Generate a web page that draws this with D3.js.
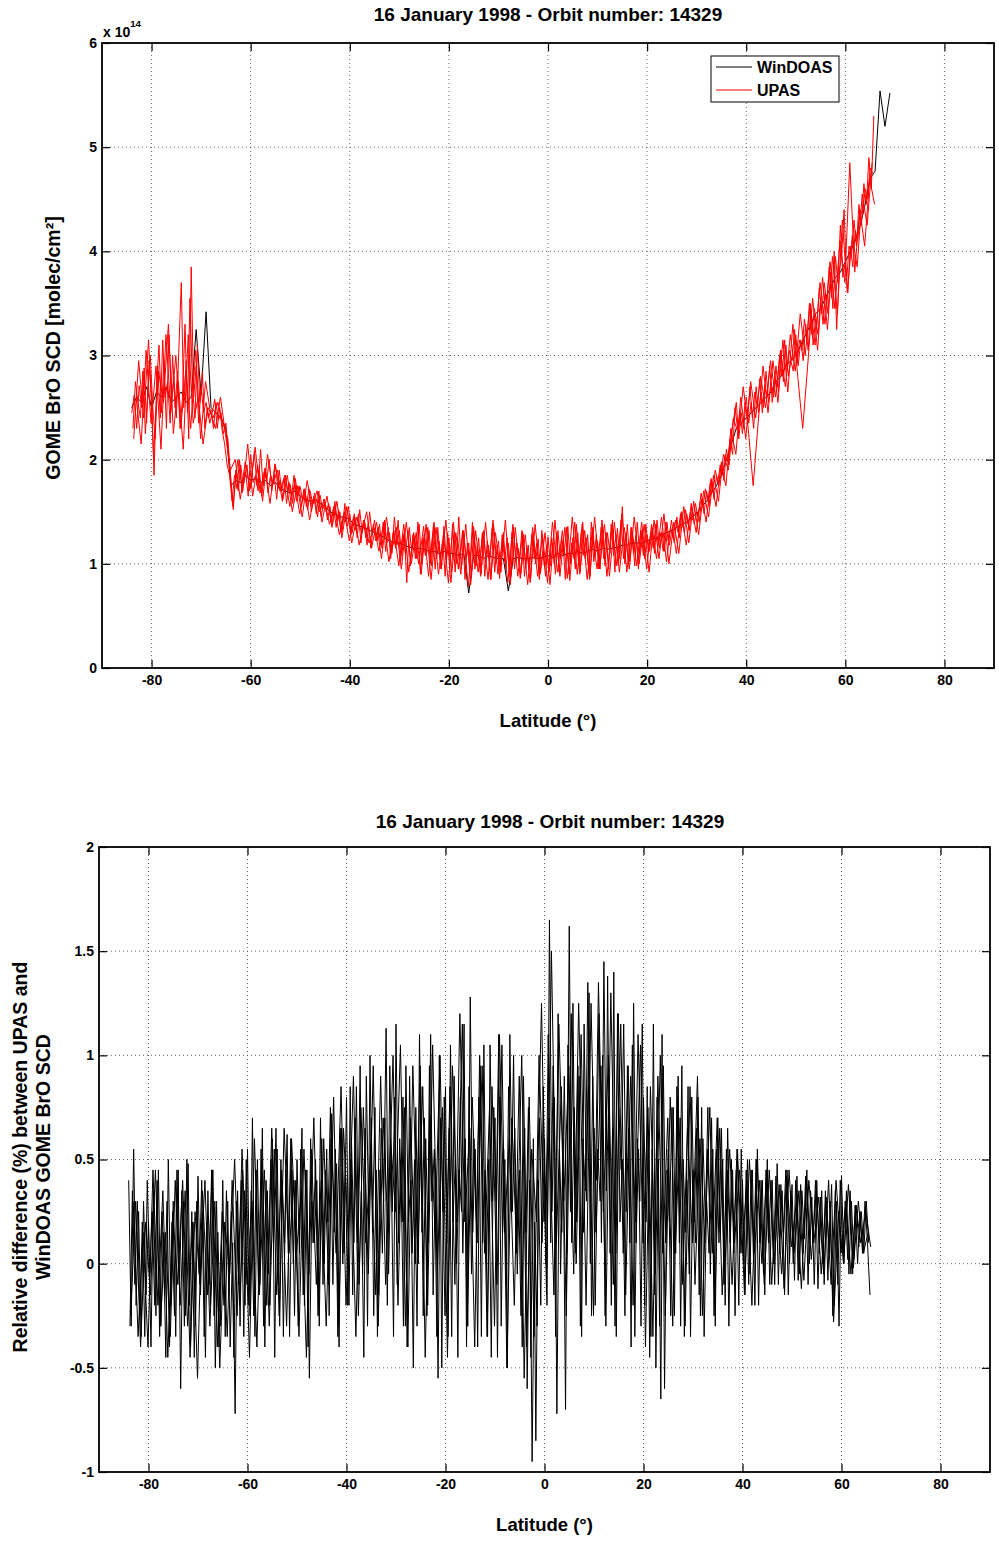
<!DOCTYPE html>
<html><head><meta charset="utf-8">
<script src="https://cdn.jsdelivr.net/npm/d3@7"></script>
<style>
body{margin:0;background:#fff}
svg{display:block}
text{font-family:"Liberation Sans",Arial,Helvetica,sans-serif;font-weight:bold;fill:#000}
</style>
</head><body>
<svg id="chart" width="999" height="1542"></svg>
<script>
// ---------- DATA ----------
const titleText = "16 January 1998 - Orbit number: 14329";
const seriesNames = ["WinDOAS", "UPAS"];
const latTicks = [-80, -60, -40, -20, 0, 20, 40, 60, 80];
const scdTicks = [0, 1, 2, 3, 4, 5, 6];
const diffTicks = [-1, -0.5, 0, 0.5, 1, 1.5, 2];

// latitude grid of the scan traces (degrees)
const latStartA = -84, latStartB = -83.75, latStep = 0.5;
const latStartC = -83.6, latStartD = -83.1, latStepCD = 1;
const windoasStart = -84, windoasStep = 1;

// UPAS BrO SCD (x 1e14 molec/cm2), trace A
const upasA = [
2.45,2.62,2.30,2.71,2.50,2.88,2.35,2.95,2.60,1.85,
2.70,3.10,2.45,2.95,2.30,3.20,2.55,2.80,2.40,3.05,
3.70,2.50,2.95,2.20,3.85,2.60,2.90,2.35,2.70,2.45,
2.55,2.40,2.48,2.30,2.55,2.38,2.45,2.25,2.35,2.05,
1.80,1.52,1.90,1.70,1.95,1.75,1.88,1.65,2.05,1.78,
1.85,1.70,2.10,1.75,1.92,1.68,1.85,1.78,1.95,1.72,
1.80,1.62,1.85,1.70,1.76,1.58,1.82,1.66,1.74,1.60,
1.68,1.52,1.70,1.58,1.62,1.45,1.66,1.52,1.58,1.42,
1.55,1.38,1.60,1.40,1.50,1.32,1.58,1.36,1.48,1.30,
1.45,1.25,1.52,1.30,1.40,1.18,1.50,1.28,1.42,1.22,
1.38,1.15,1.42,1.20,1.30,1.10,1.45,1.18,1.32,1.08,
1.30,0.82,1.35,1.12,1.25,1.05,1.38,1.00,1.28,1.10,
1.32,0.98,1.40,1.05,1.22,0.95,1.36,1.02,1.25,0.92,
1.28,1.00,1.45,0.95,1.30,1.05,1.20,0.88,1.35,0.98,
1.25,0.90,1.32,1.02,1.18,0.85,1.38,1.00,1.22,0.92,
1.30,0.95,1.20,0.88,1.35,1.02,1.15,0.90,1.28,0.96,
1.18,0.86,1.30,1.00,1.24,0.92,1.12,0.88,1.26,0.98,
1.20,0.90,1.32,1.05,1.22,0.85,1.36,1.00,1.25,0.95,
1.30,0.92,1.40,1.05,1.28,0.88,1.35,1.08,1.22,0.95,
1.36,0.98,1.30,1.10,1.42,0.92,1.34,1.05,1.55,1.00,
1.38,1.02,1.30,0.98,1.40,1.10,1.32,1.05,1.28,1.12,
1.35,1.10,1.42,1.15,1.30,1.12,1.40,1.18,1.32,1.20,
1.45,1.25,1.50,1.30,1.48,1.32,1.55,1.38,1.50,1.40,
1.62,1.48,1.70,1.55,1.80,1.62,1.85,1.75,1.98,1.80,
2.10,1.95,2.25,2.40,2.55,2.20,2.45,2.30,2.60,2.35,
2.55,2.30,2.70,2.45,2.65,2.50,2.85,2.55,2.75,2.60,
2.90,2.65,3.05,2.75,3.10,2.80,2.95,2.85,3.20,2.90,
3.15,2.95,3.30,3.05,3.45,3.10,3.35,3.20,3.55,3.30,
3.60,3.40,3.80,3.45,3.95,3.70,4.25,3.75,3.90,3.60,
4.05,3.85,4.20,4.10,4.40,4.35,4.60,4.50,4.80,4.75
];

// UPAS BrO SCD (x 1e14 molec/cm2), trace B
const upasB = [
2.30,2.75,2.55,2.40,2.85,2.25,2.65,3.00,2.50,2.20,
2.90,2.40,3.15,2.60,2.75,2.35,3.00,2.50,2.85,2.30,
2.60,3.30,2.45,3.55,2.70,2.40,3.10,2.55,2.85,2.30,
2.50,2.35,2.45,2.58,2.30,2.50,2.28,2.15,1.95,1.85,
1.60,1.85,1.72,2.00,1.68,1.82,1.95,1.70,1.85,2.08,
1.75,1.90,1.65,1.88,1.80,2.00,1.70,1.86,1.62,1.90,
1.70,1.82,1.58,1.78,1.65,1.85,1.60,1.75,1.55,1.72,
1.55,1.72,1.50,1.65,1.48,1.70,1.45,1.62,1.50,1.58,
1.40,1.55,1.35,1.52,1.30,1.48,1.40,1.55,1.28,1.45,
1.32,1.48,1.20,1.42,1.25,1.40,1.15,1.38,1.22,1.35,
1.18,1.40,1.12,1.35,1.05,1.30,1.15,1.42,1.02,1.28,
1.10,1.32,0.98,1.28,1.05,1.40,0.90,1.25,1.08,1.35,
1.00,1.28,0.95,1.35,1.05,1.22,0.88,1.30,1.02,1.38,
0.92,1.25,1.05,1.32,0.85,1.20,0.98,1.40,0.95,1.18,
0.98,1.30,0.88,1.22,1.05,1.35,0.92,1.18,0.86,1.28,
1.02,1.25,0.90,1.30,0.95,1.20,1.05,1.32,0.88,1.15,
0.95,1.28,1.05,1.20,0.85,1.32,0.98,1.18,0.92,1.25,
1.00,1.30,0.92,1.25,1.08,1.35,0.90,1.20,1.05,1.38,
0.98,1.32,1.08,1.25,0.92,1.40,1.02,1.28,0.95,1.35,
1.05,1.30,0.95,1.38,1.08,1.28,1.00,1.42,1.05,1.30,
1.00,1.35,1.10,1.28,0.95,1.32,1.08,1.38,1.12,1.30,
1.15,1.38,1.18,1.30,1.12,1.40,1.22,1.35,1.25,1.42,
1.30,1.48,1.35,1.52,1.38,1.50,1.42,1.58,1.45,1.60,
1.55,1.72,1.60,1.78,1.70,1.90,1.78,1.95,1.85,2.05,
1.98,2.20,2.05,2.50,2.30,2.45,2.25,2.55,2.40,2.70,
2.40,2.65,2.50,2.78,2.45,2.72,2.60,2.90,2.55,2.80,
2.70,3.00,2.80,3.15,2.85,3.05,2.95,3.25,2.92,3.15,
3.05,3.35,3.15,3.50,3.20,3.45,3.30,3.65,3.40,3.70,
3.50,3.85,3.55,4.00,3.25,3.80,3.95,4.40,3.70,4.05,
3.95,4.30,4.05,4.45,4.25,4.65,4.45,4.90,4.60,5.30
];

// UPAS BrO SCD (x 1e14 molec/cm2), trace C (1 degree)
const upasC = [
2.20,2.95,2.40,3.15,2.05,2.85,2.55,3.30,2.25,2.75,
2.10,3.20,2.35,2.60,2.15,2.50,2.40,2.55,2.35,2.20,
1.55,2.00,1.70,2.15,1.65,1.95,1.60,2.05,1.75,1.90,
1.60,1.85,1.50,1.75,1.45,1.80,1.55,1.70,1.40,1.65,
1.35,1.60,1.25,1.55,1.20,1.45,1.30,1.50,1.15,1.40,
1.05,1.45,1.10,1.35,0.95,1.40,1.00,1.30,0.90,1.38,
0.85,1.35,0.95,1.42,0.82,1.30,0.90,1.38,0.80,1.32,
0.88,1.40,0.85,1.30,0.92,1.42,0.80,1.35,0.86,1.28,
0.82,1.38,0.90,1.30,0.80,1.42,0.88,1.35,0.84,1.40,
0.90,1.32,0.85,1.45,0.95,1.38,0.88,1.40,0.92,1.35,
0.95,1.45,1.00,1.38,0.92,1.42,1.05,1.48,1.00,1.40,
1.10,1.55,1.20,1.60,1.28,1.70,1.45,1.85,1.60,2.05,
1.90,2.40,2.25,2.70,2.30,1.75,2.35,2.90,2.45,2.95,
2.55,3.15,2.65,3.30,2.80,2.30,2.90,3.55,3.05,3.75,
3.25,3.95,3.40,4.30,3.60,4.15,3.85,4.55,4.25,4.85
];

// UPAS BrO SCD (x 1e14 molec/cm2), trace D (1 degree)
const upasD = [
2.60,2.15,3.05,2.35,2.90,2.10,3.20,2.45,3.00,2.30,
2.85,2.30,3.05,2.20,2.75,2.45,2.30,2.60,2.25,1.90,
2.00,1.62,1.98,1.72,2.12,1.68,1.92,1.58,1.96,1.70,
1.85,1.55,1.78,1.48,1.72,1.42,1.68,1.50,1.62,1.38,
1.55,1.28,1.50,1.22,1.48,1.18,1.42,1.20,1.35,1.12,
1.40,1.02,1.32,0.98,1.38,0.92,1.30,1.00,1.36,0.88,
1.38,0.90,1.28,0.82,1.40,0.95,1.32,0.78,1.36,0.92,
1.30,0.85,1.42,0.90,1.25,0.82,1.38,0.88,1.30,0.80,
1.35,0.88,1.28,0.82,1.40,0.92,1.32,0.86,1.45,0.90,
1.38,0.85,1.30,0.95,1.42,0.88,1.36,0.98,1.48,0.92,
1.35,0.98,1.40,0.95,1.38,1.05,1.45,1.02,1.42,1.10,
1.50,1.18,1.58,1.30,1.68,1.40,1.82,1.55,1.95,1.75,
2.30,2.05,2.60,2.20,2.75,2.40,2.80,2.50,2.95,2.60,
3.05,2.70,3.20,2.85,3.40,3.00,3.50,3.10,3.70,3.30,
3.90,3.45,4.10,3.70,4.85,3.80,4.40,4.05,4.70,4.45
];

// WinDOAS BrO SCD (x 1e14 molec/cm2), 1 degree grid from -84 to 69
const windoas = [
2.50,2.60,2.55,2.70,2.50,2.65,2.60,2.70,2.55,2.60,
2.65,2.55,2.60,3.25,2.62,3.42,2.50,2.45,2.40,2.30,
1.75,1.80,1.78,1.85,1.80,1.82,1.78,1.80,1.75,1.78,
1.72,1.70,1.68,1.70,1.65,1.62,1.60,1.62,1.58,1.55,
1.50,1.48,1.45,1.45,1.42,1.38,1.36,1.35,1.32,1.30,
1.28,1.25,1.22,1.20,1.20,1.18,1.16,1.15,1.15,1.14,
1.12,1.12,1.10,1.12,1.10,1.10,1.08,1.10,0.72,1.08,
1.08,1.05,1.08,1.06,1.05,1.05,0.74,1.05,1.06,1.05,
1.05,1.06,1.05,1.06,1.08,1.06,1.10,1.08,1.10,1.10,
1.12,1.10,1.12,1.14,1.12,1.15,1.14,1.15,1.16,1.18,
1.18,1.20,1.20,1.20,1.22,1.24,1.25,1.28,1.30,1.32,
1.35,1.38,1.40,1.45,1.48,1.55,1.60,1.68,1.75,1.85,
2.00,2.15,2.30,2.35,2.40,2.45,2.50,2.55,2.60,2.65,
2.75,2.80,2.90,2.95,3.00,3.10,3.20,3.30,3.40,3.45,
3.55,3.65,3.75,3.80,3.90,4.00,4.10,4.25,4.45,4.70,
4.77,5.54,5.20,5.52
];

// Relative difference (%) UPAS vs WinDOAS, trace A
const diffA = [
0.40,-0.30,0.55,-0.20,0.25,-0.35,0.30,-0.15,0.20,-0.40,
0.35,-0.25,0.45,-0.30,0.15,-0.45,0.50,-0.20,0.30,-0.35,
0.45,-0.60,0.30,-0.25,0.48,-0.40,0.20,-0.30,0.42,-0.15,
0.25,-0.45,0.35,-0.20,0.45,-0.50,0.15,-0.30,0.40,-0.35,
0.30,-0.40,0.10,-0.72,0.35,-0.30,0.45,-0.20,0.55,-0.25,
0.70,-0.35,0.50,-0.10,0.65,-0.40,0.35,-0.20,0.60,-0.45,
0.55,-0.30,0.40,0.10,0.62,-0.35,0.45,-0.25,0.50,0.05,
0.65,-0.20,0.45,-0.55,0.30,0.10,0.40,-0.30,0.60,0.00,
0.55,-0.25,0.72,0.15,0.48,-0.40,0.65,0.05,0.80,-0.20,
0.60,0.10,0.85,-0.10,0.35,-0.45,0.90,0.20,0.70,-0.25,
0.45,-0.15,0.65,0.30,1.13,-0.05,0.55,-0.35,1.15,0.10,
0.50,-0.30,0.95,0.20,0.40,-0.50,0.75,0.00,0.85,-0.25,
0.60,0.10,1.10,-0.15,0.45,-0.55,0.70,0.25,0.85,-0.35,
1.05,0.20,0.50,-0.45,0.80,0.05,0.60,-0.30,1.28,0.15,
0.55,-0.40,0.95,0.10,0.45,-0.35,1.05,0.30,0.70,-0.45,
0.80,0.15,0.50,-0.50,1.10,0.25,0.65,-0.05,0.45,-0.40,
0.65,-0.60,0.40,-0.95,0.20,-0.30,0.70,0.10,0.60,-0.20,
1.65,0.25,0.80,-0.72,0.55,0.15,0.90,0.05,1.62,0.10,
0.75,0.20,0.90,-0.35,1.15,0.30,1.30,-0.25,0.65,0.40,
1.20,0.10,1.45,0.35,0.80,-0.20,1.40,-0.35,0.75,0.45,
1.15,0.25,0.65,-0.40,1.25,0.10,0.55,-0.30,0.80,0.20,
0.60,-0.35,1.15,-0.50,0.50,-0.65,0.95,0.10,0.55,-0.25,
0.75,0.05,0.90,-0.30,0.50,0.15,0.85,-0.35,0.45,0.10,
0.80,-0.25,0.60,0.20,0.75,-0.05,0.55,-0.30,0.70,0.15,
0.50,-0.20,0.65,0.10,0.45,-0.25,0.55,0.05,0.40,-0.15,
0.50,-0.05,0.45,-0.20,0.55,0.10,0.40,-0.15,0.50,-0.10,
0.40,-0.10,0.48,0.05,0.35,-0.15,0.45,0.00,0.38,-0.08,
0.42,-0.05,0.35,0.12,0.45,0.00,0.32,-0.10,0.40,0.05,
0.35,-0.10,0.30,0.05,0.38,-0.20,0.30,-0.30,0.42,0.00,
0.35,-0.05,0.30,0.02,0.28,0.08,0.25,0.05,0.30,0.10
];

// Relative difference (%) UPAS vs WinDOAS, trace B
const diffB = [
-0.30,0.35,-0.10,0.30,-0.25,0.20,-0.35,0.40,-0.05,0.25,
-0.20,0.40,-0.35,0.25,-0.15,0.30,-0.40,0.20,-0.25,0.45,
-0.10,0.35,-0.30,0.50,-0.20,0.25,-0.45,0.30,-0.05,0.40,
-0.35,0.20,-0.10,0.45,-0.25,0.30,-0.40,0.10,-0.20,0.35,
-0.15,0.25,-0.45,0.30,-0.10,0.40,-0.35,0.50,-0.20,0.35,
-0.25,0.45,-0.15,0.55,-0.30,0.40,-0.05,0.50,0.10,0.65,
-0.10,0.50,-0.35,0.45,0.05,0.60,0.00,0.40,-0.30,0.55,
-0.15,0.45,-0.40,0.60,0.10,0.50,-0.25,0.70,-0.10,0.45,
0.20,0.75,-0.10,0.55,-0.35,0.65,0.00,0.50,-0.20,0.85,
-0.15,0.70,0.10,0.95,-0.05,0.65,-0.30,1.00,0.15,0.75,
-0.35,0.45,0.05,0.70,-0.20,0.95,0.25,0.80,-0.10,0.60,
0.20,0.75,-0.40,0.90,0.05,0.50,-0.30,1.10,0.15,0.70,
-0.25,0.95,0.30,0.55,-0.35,1.00,-0.50,0.80,0.10,0.65,
-0.35,0.90,0.00,0.45,0.25,1.15,-0.40,0.85,-0.05,0.60,
0.20,0.80,-0.35,1.05,0.00,0.50,-0.45,0.75,0.30,1.10,
-0.30,0.55,-0.10,0.85,0.25,1.00,0.05,0.40,-0.25,0.90,
0.15,0.75,-0.45,0.60,-0.85,0.40,-0.20,0.85,0.00,1.10,
0.10,0.95,-0.35,1.20,-0.05,0.60,-0.70,1.05,0.25,1.25,
0.05,0.95,-0.30,0.60,0.35,1.35,0.00,0.90,-0.20,0.55,
0.30,1.00,-0.25,1.38,0.05,0.65,-0.30,1.20,0.20,0.50,
-0.25,0.95,0.10,1.05,-0.35,0.60,0.30,1.15,-0.20,0.85,
-0.45,0.55,-0.15,0.80,-0.30,1.10,-0.60,0.45,0.20,0.75,
-0.25,0.85,0.10,0.95,-0.35,0.40,-0.05,0.80,0.20,0.65,
-0.15,0.75,-0.35,0.30,0.05,0.70,-0.25,0.55,0.10,0.65,
-0.10,0.55,-0.30,0.50,0.05,0.45,-0.20,0.55,0.00,0.45,
-0.10,0.45,0.00,0.50,-0.20,0.40,-0.05,0.45,0.10,0.40,
0.00,0.42,-0.10,0.38,0.15,0.45,-0.15,0.35,0.00,0.40,
-0.08,0.38,0.05,0.42,-0.10,0.35,0.10,0.40,-0.12,0.32,
0.00,0.35,-0.08,0.30,-0.25,0.35,-0.10,0.40,0.05,0.30,
0.02,0.35,-0.05,0.28,0.00,0.25,0.05,0.30,0.10,-0.15
];

// Relative difference (%), trace C (1 degree)
const diffC = [
-0.25,0.30,-0.40,0.20,-0.15,0.45,-0.30,0.15,-0.35,0.40,
-0.20,0.35,-0.45,0.25,-0.10,0.40,-0.30,0.30,-0.50,0.20,
-0.05,0.50,-0.20,0.35,-0.45,0.60,-0.15,0.45,-0.30,0.55,
-0.25,0.65,0.05,0.40,-0.35,0.55,-0.05,0.70,-0.20,0.60,
-0.10,0.80,-0.30,0.65,0.10,0.90,-0.25,0.75,-0.05,0.95,
-0.30,0.70,0.15,1.00,-0.20,0.80,-0.40,0.95,0.05,0.85,
-0.20,1.05,0.00,0.75,-0.45,0.95,0.20,1.15,-0.30,0.80,
0.10,0.95,-0.35,0.85,-0.10,1.05,-0.50,0.70,0.05,1.00,
-0.40,0.55,0.20,1.25,-0.15,1.50,0.10,0.85,-0.25,1.20,
0.00,1.10,-0.20,1.25,0.15,0.95,-0.30,1.30,0.05,1.15,
-0.15,0.90,0.20,1.05,-0.40,0.85,-0.05,1.00,-0.25,0.80,
0.05,0.70,-0.30,0.85,-0.10,0.60,0.10,0.75,-0.20,0.65,
-0.05,0.55,0.10,0.45,-0.15,0.50,0.05,0.40,-0.10,0.45,
0.00,0.38,-0.12,0.45,0.05,0.35,-0.08,0.40,0.10,0.32,
-0.05,0.40,-0.28,0.25,0.00,0.38,-0.02,0.30,0.05,0.15
];

// Relative difference (%), trace D (1 degree)
const diffD = [
0.30,-0.35,0.15,-0.40,0.45,-0.20,0.35,-0.45,0.25,-0.10,
0.40,-0.30,0.20,-0.55,0.35,-0.15,0.45,-0.40,0.25,-0.35,
0.40,-0.25,0.55,-0.10,0.30,-0.40,0.50,-0.20,0.65,-0.15,
0.45,-0.30,0.60,0.05,0.35,-0.45,0.55,-0.10,0.40,-0.30,
0.60,0.05,0.85,-0.20,0.50,-0.35,0.75,0.10,0.55,-0.15,
0.90,-0.10,0.60,0.25,1.05,-0.30,0.70,0.00,0.95,-0.45,
0.70,0.15,1.00,-0.25,0.85,-0.10,1.20,0.20,0.65,-0.40,
1.00,0.05,0.75,-0.30,1.10,0.15,0.60,-0.20,0.90,-0.55,
0.80,-0.35,1.00,0.20,0.70,-0.15,1.15,0.30,0.95,-0.05,
1.25,0.15,0.85,-0.25,1.35,0.25,1.00,-0.10,1.20,0.05,
0.95,-0.20,1.10,0.10,0.75,-0.35,0.90,0.05,0.70,-0.30,
0.80,-0.10,0.65,0.10,0.90,-0.25,0.55,0.05,0.70,-0.15,
0.45,-0.10,0.55,0.05,0.40,-0.20,0.50,0.00,0.45,-0.10,
0.35,-0.05,0.42,0.08,0.30,-0.12,0.40,0.02,0.35,-0.05,
0.32,-0.10,0.40,0.05,0.30,-0.05,0.28,0.10,0.25,0.08
];

// ---------- DRAWING ----------
const svg = d3.select("#chart");
const FONT = '"Liberation Sans", Arial, sans-serif';

function panel(cfg) {
  const g = svg.append("g");
  const x = d3.scaleLinear().domain([-90, 90]).range([cfg.left, cfg.right]);
  const y = d3.scaleLinear().domain(cfg.yDomain).range([cfg.bottom, cfg.top]);
  const clipId = "clip" + cfg.id;
  svg.append("clipPath").attr("id", clipId).append("rect")
    .attr("x", cfg.left).attr("y", cfg.top)
    .attr("width", cfg.right - cfg.left).attr("height", cfg.bottom - cfg.top);

  // grid
  const grid = g.append("g").attr("stroke", "#444").attr("stroke-width", 0.8)
    .attr("stroke-dasharray", "1,3");
  latTicks.forEach(t => grid.append("line").attr("x1", x(t)).attr("x2", x(t))
    .attr("y1", cfg.top).attr("y2", cfg.bottom));
  cfg.yTicks.filter(t => t > cfg.yDomain[0] && t < cfg.yDomain[1]).forEach(t =>
    grid.append("line").attr("x1", cfg.left).attr("x2", cfg.right)
      .attr("y1", y(t)).attr("y2", y(t)));

  // data
  const plot = g.append("g").attr("clip-path", `url(#${clipId})`);
  cfg.series.forEach(s => {
    const line = d3.line()
      .x((d, i) => x(s.start + i * s.step))
      .y(d => y(d));
    plot.append("path").datum(s.values).attr("d", line)
      .attr("fill", "none").attr("stroke", s.color).attr("stroke-width", 1)
      .attr("stroke-linejoin", "miter");
  });

  // axes via d3 axis, ticks inward
  const tl = 8;
  const fmt = d => String(d);
  const axB = d3.axisBottom(x).tickValues(latTicks).tickSize(-tl).tickPadding(7).tickFormat(fmt);
  const axT = d3.axisTop(x).tickValues(latTicks).tickSize(-tl).tickFormat("");
  const axL = d3.axisLeft(y).tickValues(cfg.yTicks).tickSize(-tl).tickPadding(5).tickFormat(fmt);
  const axR = d3.axisRight(y).tickValues(cfg.yTicks).tickSize(-tl).tickFormat("");
  [[axB, `translate(0,${cfg.bottom})`], [axT, `translate(0,${cfg.top})`],
   [axL, `translate(${cfg.left},0)`], [axR, `translate(${cfg.right},0)`]].forEach(([ax, tr]) => {
    const a = g.append("g").attr("transform", tr).call(ax);
    a.select(".domain").remove();
    a.selectAll("line").attr("stroke", "#000").attr("stroke-width", 1.2);
    a.selectAll("text").attr("font-size", 14).attr("font-weight", "bold")
      .attr("font-family", FONT).attr("fill", "#000");
  });
  g.append("rect").attr("x", cfg.left).attr("y", cfg.top)
    .attr("width", cfg.right - cfg.left).attr("height", cfg.bottom - cfg.top)
    .attr("fill", "none").attr("stroke", "#000").attr("stroke-width", 1.8);

  // title & x label
  g.append("text").attr("x", cfg.titleX).attr("y", cfg.titleY).attr("text-anchor", "middle")
    .attr("font-size", 19).text(titleText);
  g.append("text").attr("x", (cfg.left + cfg.right) / 2).attr("y", cfg.bottom + 59)
    .attr("text-anchor", "middle").attr("font-size", 18.5).text("Latitude (°)");
  return { g, x, y };
}

// Top panel
const topPanel = panel({
  id: "top", left: 102, right: 994, top: 43, bottom: 668,
  yDomain: [0, 6], yTicks: scdTicks, titleX: 548, titleY: 21,
  series: [
    { values: windoas, start: windoasStart, step: windoasStep, color: "#000" },
    { values: upasC, start: latStartC, step: latStepCD, color: "#ff0000" },
    { values: upasA, start: latStartA, step: latStep, color: "#ff0000" },
    { values: upasD, start: latStartD, step: latStepCD, color: "#ff0000" },
    { values: upasB, start: latStartB, step: latStep, color: "#ff0000" }
  ]
});
topPanel.g.append("text").attr("transform", "translate(60,348) rotate(-90)")
  .attr("text-anchor", "middle").attr("font-size", 19.5).text("GOME BrO SCD [molec/cm²]");
const mult = topPanel.g.append("text").attr("x", 103).attr("y", 37).attr("font-size", 14);
mult.append("tspan").text("x 10");
mult.append("tspan").attr("dy", -10).attr("font-size", 9.5).text("14");

// Legend
const lg = topPanel.g.append("g");
lg.append("rect").attr("x", 711).attr("y", 56).attr("width", 128).attr("height", 46)
  .attr("fill", "#fff").attr("stroke", "#000").attr("stroke-width", 1);
const legColors = ["#000", "#ff0000"];
seriesNames.forEach((n, i) => {
  const yy = 67 + i * 23;
  lg.append("line").attr("x1", 716).attr("x2", 752).attr("y1", yy).attr("y2", yy)
    .attr("stroke", legColors[i]).attr("stroke-width", 1);
  lg.append("text").attr("x", 757).attr("y", yy + 6).attr("font-size", 16).text(n);
});

// Bottom panel
const bottomPanel = panel({
  id: "bot", left: 99, right: 990, top: 847, bottom: 1472,
  yDomain: [-1, 2], yTicks: diffTicks, titleX: 550, titleY: 828,
  series: [
    { values: diffC, start: latStartC, step: latStepCD, color: "#000" },
    { values: diffA, start: latStartA, step: latStep, color: "#000" },
    { values: diffD, start: latStartD, step: latStepCD, color: "#000" },
    { values: diffB, start: latStartB, step: latStep, color: "#000" }
  ]
});
bottomPanel.g.append("text").attr("transform", "translate(27,1157) rotate(-90)")
  .attr("text-anchor", "middle").attr("font-size", 19.5).text("Relative difference (%) between UPAS and");
bottomPanel.g.append("text").attr("transform", "translate(50,1157) rotate(-90)")
  .attr("text-anchor", "middle").attr("font-size", 19.5).text("WinDOAS GOME BrO SCD");
</script>
</body></html>
